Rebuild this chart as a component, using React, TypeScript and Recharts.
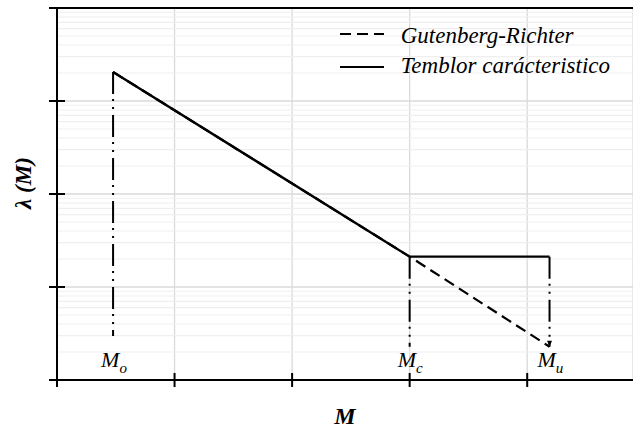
import React from 'react';
import {
  ComposedChart,
  Line,
  XAxis,
  YAxis,
  CartesianGrid,
  ReferenceLine,
  Legend,
  Label,
} from 'recharts';

// ---------- data ----------
const xTicks = [0, 1, 2, 3, 4];
const xDomain = [0, 4.9];
const yTicks = [0.0001, 0.001, 0.01, 0.1, 1];
const yDomain = [0.0001, 1];
const yDecades = [0.0001, 0.001, 0.01, 0.1];
const yMinorMultipliers = [2, 3, 4, 5, 6, 7, 8, 9];
const yMinor = yDecades.flatMap((d) => yMinorMultipliers.map((k) => k * d));

const M_O = 0.477;
const M_C = 3.0;
const M_U = 4.19;

const grData = [
  { x: M_O, y: 0.205 },
  { x: M_C, y: 0.00212 },
  { x: M_U, y: 0.000228 },
];
const charData = [
  { x: M_O, y: 0.205 },
  { x: M_C, y: 0.00212 },
  { x: M_U, y: 0.00212 },
];
const markers = [
  { sub: 'o', x: M_O, top: 0.205, bottom: 0.000297, arrow: false },
  { sub: 'c', x: M_C, top: 0.00212, bottom: 0.000228, arrow: false },
  { sub: 'u', x: M_U, top: 0.00212, bottom: 0.000228, arrow: true },
];
const legendItems = [
  { label: 'Gutenberg-Richter', dash: '11 6' },
  { label: 'Temblor carácteristico', dash: undefined as string | undefined },
];

// ---------- layout / style ----------
const W = 633;
const H = 429;
const MARGIN = { top: 8, right: 0, bottom: 0, left: 0 };
const YAXIS_W = 57;
const XAXIS_H = 49;
const LABEL_Y = H - XAXIS_H - 13;
const FONT = '"Liberation Serif", "Times New Roman", serif';
const DASH_DOT = '22 5 2 6 2 6';

const XTick = (props: any) => {
  const { x, y } = props;
  return <line x1={x} x2={x} y1={y - 7} y2={y + 7} stroke="#000" strokeWidth={2} />;
};
const YTick = (props: any) => {
  const { x, y } = props;
  return <line x1={x - 8} x2={x + 8} y1={y} y2={y} stroke="#000" strokeWidth={2} />;
};

const YLabel = (props: any) => {
  const vb = props.viewBox || { x: 0, y: 0, width: 0, height: 0 };
  const cx = vb.x + 31;
  const cy = vb.y + vb.height / 2 - 11;
  return (
    <text
      x={cx}
      y={cy}
      transform={`rotate(-90, ${cx}, ${cy})`}
      textAnchor="middle"
      fontFamily={FONT}
      fontStyle="italic"
      fontWeight="bold"
      fontSize={23}
      fill="#000"
    >
      λ (M)
    </text>
  );
};
const XLabel = (props: any) => {
  const vb = props.viewBox || { x: 0, y: 0, width: 0, height: 0 };
  return (
    <text
      x={vb.x + vb.width / 2}
      y={vb.y + 44}
      textAnchor="middle"
      fontFamily={FONT}
      fontStyle="italic"
      fontWeight="bold"
      fontSize={24}
      fill="#000"
    >
      M
    </text>
  );
};

const renderLegend = () => (
  <svg width={300} height={70} style={{ display: 'block' }}>
    {legendItems.map((it, i) => (
      <g key={it.label}>
        <line
          x1={10}
          x2={54}
          y1={19 + i * 33}
          y2={19 + i * 33}
          stroke="#000"
          strokeWidth={2.2}
          strokeDasharray={it.dash}
        />
        <text
          x={70.7}
          y={28 + i * 30}
          fontFamily={FONT}
          fontStyle="italic"
          fontSize={23}
          fill="#000"
        >
          {it.label}
        </text>
      </g>
    ))}
  </svg>
);

const makeMarkerDot = (m: (typeof markers)[number]) => (p: any) => {
  const { cx, cy, index } = p;
  if (index === 0) {
    return (
      <text
        key={`lbl-${m.sub}`}
        x={cx - 12}
        y={LABEL_Y}
        fontFamily={FONT}
        fontStyle="italic"
        fontSize={22}
        fill="#000"
      >
        M
        <tspan fontSize={15} dy={6}>
          {m.sub}
        </tspan>
      </text>
    );
  }
  if (m.arrow) {
    return (
      <polygon
        key={`arr-${m.sub}`}
        points={`${cx - 2.5},${cy - 6} ${cx + 2.5},${cy - 6} ${cx},${cy}`}
        fill="#000"
      />
    );
  }
  return <g key={`none-${m.sub}-${index}`} />;
};

export default function App() {
  return (
    <div style={{ position: 'absolute', left: 0, top: 0, width: W, height: H, background: '#fff' }}>
      <ComposedChart width={W} height={H} margin={MARGIN}>
        <CartesianGrid stroke="#dadada" strokeWidth={1.3} />
        {yMinor.map((v) => (
          <ReferenceLine key={v} y={v} stroke="#efefef" strokeWidth={1.2} />
        ))}
        <ReferenceLine y={1} stroke="#000" strokeWidth={2} />
        <XAxis
          type="number"
          dataKey="x"
          domain={xDomain}
          ticks={xTicks}
          interval={0}
          allowDataOverflow
          height={XAXIS_H}
          axisLine={{ stroke: '#000', strokeWidth: 2 }}
          tickLine={false}
          tickSize={0}
          tickMargin={0}
          tick={<XTick />}
        >
          <Label content={<XLabel />} />
        </XAxis>
        <YAxis
          type="number"
          scale="log"
          domain={yDomain}
          ticks={yTicks}
          interval={0}
          allowDataOverflow
          width={YAXIS_W}
          axisLine={{ stroke: '#000', strokeWidth: 2 }}
          tickLine={false}
          tickSize={0}
          tickMargin={0}
          tick={<YTick />}
        >
          <Label content={<YLabel />} />
        </YAxis>
        {markers.map((m) => (
          <Line
            key={`mk-${m.sub}`}
            data={[
              { x: m.x, y: m.top },
              { x: m.x, y: m.bottom },
            ]}
            dataKey="y"
            type="linear"
            stroke="#000"
            strokeWidth={2}
            strokeDasharray={DASH_DOT}
            dot={makeMarkerDot(m)}
            activeDot={false}
            isAnimationActive={false}
            legendType="none"
          />
        ))}
        <Line
          data={grData}
          dataKey="y"
          type="linear"
          stroke="#000"
          strokeWidth={2.2}
          strokeDasharray="11 6"
          dot={false}
          activeDot={false}
          isAnimationActive={false}
        />
        <Line
          data={charData}
          dataKey="y"
          type="linear"
          stroke="#000"
          strokeWidth={2.4}
          dot={false}
          activeDot={false}
          isAnimationActive={false}
        />
        <Legend
          layout="vertical"
          verticalAlign="middle"
          align="center"
          content={renderLegend}
          wrapperStyle={{ position: 'absolute', left: 330, top: 15, width: 300, height: 70 }}
        />
      </ComposedChart>
    </div>
  );
}
